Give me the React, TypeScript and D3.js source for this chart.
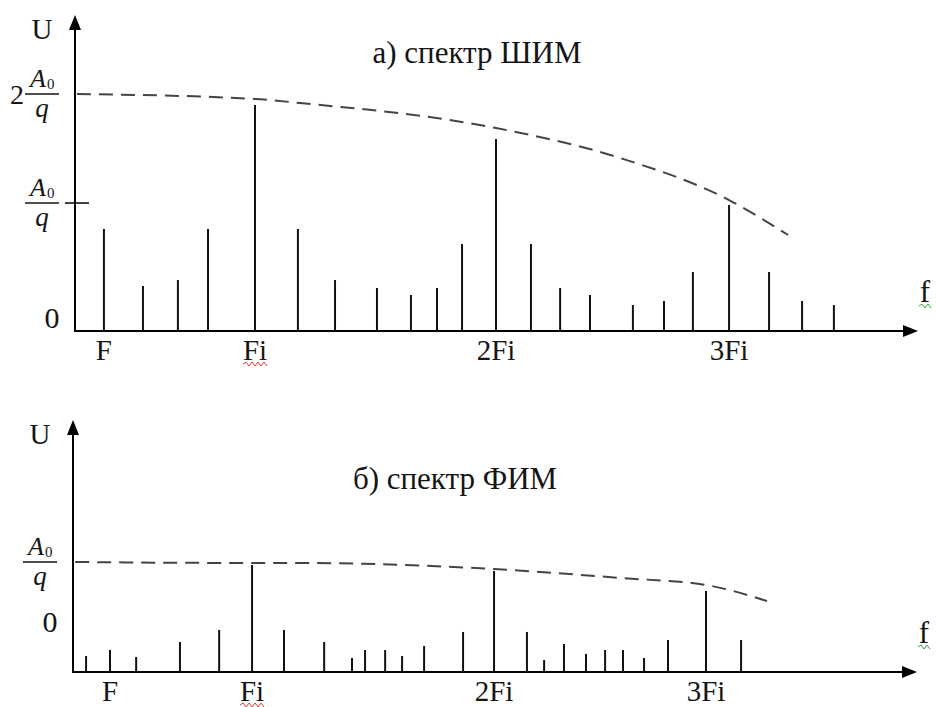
import React from 'react';
import * as d3 from 'd3';

// а) спектр ШИМ — frequency in units of Fi, amplitude in units of A0/q
const pwmFreq = [0.373, 0.535, 0.68, 0.805, 1.0, 1.178, 1.332, 1.506, 1.647, 1.755, 1.859, 2.0, 2.145, 2.266, 2.39, 2.568, 2.697, 2.817, 2.967, 3.133, 3.27, 3.402];
const pwmAmp = [0.861, 0.38, 0.43, 0.861, 1.907, 0.861, 0.43, 0.363, 0.304, 0.363, 0.734, 1.62, 0.734, 0.363, 0.304, 0.219, 0.253, 0.498, 1.063, 0.498, 0.253, 0.219];
const pwmEnvFreq = [0.261, 1.0, 1.187, 2.0, 2.515, 2.967, 3.212];
const pwmEnvAmp = [2.0, 1.958, 1.924, 1.713, 1.46, 1.105, 0.81];

// б) спектр ФИМ
const fimFreq = [0.314, 0.413, 0.521, 0.702, 0.864, 1.0, 1.132, 1.298, 1.413, 1.467, 1.55, 1.62, 1.711, 1.872, 2.0, 2.136, 2.207, 2.289, 2.38, 2.459, 2.533, 2.62, 2.719, 2.876, 3.021];
const fimAmp = [0.145, 0.2, 0.136, 0.273, 0.382, 0.973, 0.382, 0.273, 0.127, 0.2, 0.2, 0.145, 0.236, 0.364, 0.918, 0.364, 0.109, 0.255, 0.164, 0.2, 0.2, 0.127, 0.291, 0.736, 0.291];
const fimEnvFreq = [0.269, 1.0, 1.198, 2.0, 2.521, 2.876, 3.128];
const fimEnvAmp = [1.0, 0.991, 0.991, 0.936, 0.855, 0.791, 0.645];

const tickNames = ['F', 'Fi', '2Fi', '3Fi'];
const pwmTickFreq = [0.373, 1.0, 2.0, 2.967];
const fimTickFreq = [0.413, 1.0, 2.0, 2.876];

const FONT = "'Liberation Serif', Tinos, 'DejaVu Serif', serif";
const INK = '#151515';

const wavy = (x0: number, x1: number, y: number) => {
  let d = `M${x0},${y}`;
  let up = true;
  for (let x = x0 + 3; x <= x1; x += 3) {
    d += ` L${x},${y + (up ? -2 : 2)}`;
    up = !up;
  }
  return d;
};

const Fraction = ({ x, y, w, lead }: { x: number; y: number; w: number; lead?: string }) => (
  <g style={{ fontFamily: FONT }} fill={INK}>
    {lead && (
      <text x={x - 8} y={y} dy="0.36em" fontSize={28} textAnchor="middle">{lead}</text>
    )}
    <text x={x + 5} y={y - 7} fontSize={26} fontStyle="italic">A</text>
    <text x={x + 22} y={y - 5} fontSize={15}>0</text>
    <line x1={x} x2={x + w} y1={y} y2={y} stroke={INK} strokeWidth={1.5} />
    <text x={x + w / 2} y={y + 23} fontSize={27} fontStyle="italic" textAnchor="middle">q</text>
  </g>
);

type PanelProps = {
  title: string;
  titleX: number;
  titleY: number;
  freq: number[];
  amp: number[];
  envFreq: number[];
  envAmp: number[];
  tickFreq: number[];
  xDomain: [number, number];
  xRange: [number, number];
  yDomain: [number, number];
  yRange: [number, number];
  yTop: number;
  zeroAt: number;
  fractions: { v: number; lead?: string; tick?: boolean }[];
};

const Panel = (p: PanelProps) => {
  const x = d3.scaleLinear().domain(p.xDomain).range(p.xRange);
  const y = d3.scaleLinear().domain(p.yDomain).range(p.yRange);
  const x0 = x(p.xDomain[0]);
  const x1 = x(p.xDomain[1]);
  const y0 = y(0);

  const env = d3.line<number>()
    .x((d) => x(d))
    .y((_, i) => y(p.envAmp[i]))
    .curve(d3.curveMonotoneX)(p.envFreq);

  const txt = { fontFamily: FONT };

  return (
    <g>
      <text x={p.titleX} y={p.titleY} dy="0.35em" fontSize={31} style={txt} textAnchor="middle" fill={INK}>{p.title}</text>

      {/* axes */}
      <line x1={x0} x2={x0} y1={y0 + 1} y2={p.yTop + 12} stroke="#000" strokeWidth={2} />
      <path d={`M${x0},${p.yTop} L${x0 - 6},${p.yTop + 15} L${x0 + 6},${p.yTop + 15} Z`} fill="#000" />
      <line x1={x0 - 1} x2={x1 - 12} y1={y0} y2={y0} stroke="#000" strokeWidth={2} />
      <path d={`M${x1},${y0} L${x1 - 15},${y0 - 6} L${x1 - 15},${y0 + 6} Z`} fill="#000" />
      <text x={x0 - 33} y={p.yTop + 14} dy="0.35em" fontSize={29} style={txt} textAnchor="middle" fill={INK}>U</text>
      <text x={x1 + 7} y={y0 - 40} dy="0.35em" fontSize={31} style={txt} textAnchor="middle" fill={INK}>f</text>
      <path d={wavy(x1 + 1, x1 + 13, y0 - 25)} fill="none" stroke="#3a3" strokeWidth={1} />
      <text x={x0 - 23} y={y(p.zeroAt)} dy="0.35em" fontSize={30} style={txt} textAnchor="middle" fill={INK}>0</text>

      {p.fractions.map((f, i) => (
        <g key={i}>
          <Fraction x={x0 - 50} y={y(f.v)} w={34} lead={f.lead} />
          {f.tick && <line x1={x0 - 10} x2={x0 + 14} y1={y(f.v)} y2={y(f.v)} stroke="#000" strokeWidth={1.5} />}
        </g>
      ))}

      {/* envelope */}
      <path d={env || ''} fill="none" stroke="#444" strokeWidth={2} strokeDasharray="14 8" />

      {/* spectral lines */}
      {p.freq.map((f, i) => (
        <line key={i} x1={x(f)} x2={x(f)} y1={y0} y2={y(p.amp[i])} stroke="#111" strokeWidth={2} />
      ))}

      {tickNames.map((t, i) => (
        <g key={t}>
          <text x={x(p.tickFreq[i])} y={y0 + 19} dy="0.35em" fontSize={29} style={txt} textAnchor="middle" fill={INK}>{t}</text>
          {t === 'Fi' && (
            <path d={wavy(x(p.tickFreq[i]) - 12, x(p.tickFreq[i]) + 12, y0 + 33)} fill="none" stroke="#e33" strokeWidth={1} />
          )}
        </g>
      ))}
    </g>
  );
};

export default function App() {
  return (
    <svg width={936} height={707} style={{ position: 'absolute', left: 0, top: 0, background: '#fff' }}>
      <rect width={936} height={707} fill="#fff" />
      <Panel
        title="а) спектр ШИМ"
        titleX={477}
        titleY={52}
        freq={pwmFreq}
        amp={pwmAmp}
        envFreq={pwmEnvFreq}
        envAmp={pwmEnvAmp}
        tickFreq={pwmTickFreq}
        xDomain={[0.253, 3.751]}
        xRange={[75, 918]}
        yDomain={[0, 2]}
        yRange={[331, 94]}
        yTop={15}
        zeroAt={0.11}
        fractions={[{ v: 2, lead: '2' }, { v: 1.08, tick: true }]}
      />
      <Panel
        title="б) спектр ФИМ"
        titleX={455}
        titleY={478}
        freq={fimFreq}
        amp={fimAmp}
        envFreq={fimEnvFreq}
        envAmp={fimEnvAmp}
        tickFreq={fimTickFreq}
        xDomain={[0.26, 3.748]}
        xRange={[73, 917]}
        yDomain={[0, 1]}
        yRange={[672, 562]}
        yTop={420}
        zeroAt={0.455}
        fractions={[{ v: 1 }]}
      />
    </svg>
  );
}
